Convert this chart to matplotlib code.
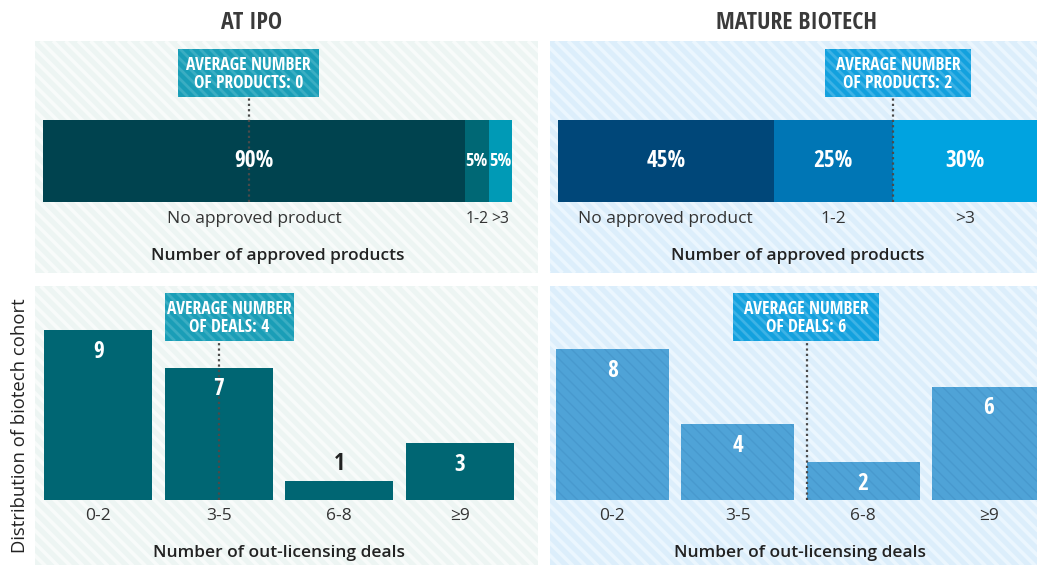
import numpy as np
import matplotlib
matplotlib.use('Agg')
import matplotlib.pyplot as plt
import matplotlib.transforms as mtransforms
from matplotlib import font_manager
from matplotlib.patches import Rectangle
from matplotlib.collections import LineCollection


# data

product_cats = ['No approved product', '1-2', '>3']
ipo_products = [90, 5, 5]                 # % of cohort at IPO
mature_products = [45, 25, 30]            # % of cohort, mature biotech

deal_cats = ['0-2', '3-5', '6-8', '≥9']
ipo_deals = [9, 7, 1, 3]
mature_deals = [8, 4, 2, 6]

ipo_avg_products = 0
mature_avg_products = 2
ipo_avg_deals = 4
mature_avg_deals = 6

# where the average marker sits on each axis
ipo_prod_marker = 44
mature_prod_marker = 70
ipo_deal_marker = 1.0
mature_deal_marker = 1.55


plt.rcParams['font.family'] = ['Open Sans', 'DejaVu Sans']

# a narrow bold face for titles / values, if one is installed
names = {f.name for f in font_manager.fontManager.ttflist}
narrow = 'Roboto'
for n in ['Open Sans Condensed', 'Roboto Condensed', 'Liberation Sans Narrow']:
    if n in names:
        narrow = n
        break
k = 1.0 if narrow != 'Roboto' else 0.9

W, H = 1037, 565
fig = plt.figure(figsize=(W / 100, H / 100), dpi=100)


def box(l, t, r, b):
    return [l / W, 1 - b / H, (r - l) / W, (b - t) / H]


# background layer in pixel coords (y down)
bg = fig.add_axes([0, 0, 1, 1], zorder=-1)
bg.set_xlim(0, W)
bg.set_ylim(H, 0)
bg.axis('off')


def striped(l, t, r, b, face, stripe, gap, lw, z):
    rect = Rectangle((l, t), r - l, b - t, facecolor=face, lw=0, zorder=z)
    bg.add_patch(rect)
    h = b - t
    segs = [[(x0, t), (x0 + h, b)] for x0 in np.arange(l - h, r, gap)]
    lc = LineCollection(segs, colors=stripe, linewidths=lw, zorder=z + 0.1)
    bg.add_collection(lc)
    lc.set_clip_path(rect)


def callout(l, t, r, b, face, stripe, text):
    striped(l, t, r, b, face, stripe, 10, 2.0, 1.5)
    bg.text((l + r) / 2, (t + b) / 2 + 1, text, ha='center', va='center', color='white',
            fontsize=12.6 * k, family=narrow, weight='bold', linespacing=1.02, zorder=3)


# panels
mint, mint_s = '#EDF5F3', '#F8FBFA'
blue, blue_s = '#DCEEFB', '#EBF6FE'
striped(35, 41, 538, 273, mint, mint_s, 12.5, 2.6, 1)
striped(550, 41, 1040, 273, blue, blue_s, 12.5, 2.6, 1)
striped(35, 286, 538, 568, mint, mint_s, 12.5, 2.6, 1)
striped(550, 286, 1040, 568, blue, blue_s, 12.5, 2.6, 1)

callout(178, 49, 319, 97, '#1A9EB7', '#3AADC2',
        'AVERAGE NUMBER\nOF PRODUCTS: %d' % ipo_avg_products)
callout(825, 49, 971, 97, '#13A1DE', '#3DB2E5',
        'AVERAGE NUMBER\nOF PRODUCTS: %d' % mature_avg_products)
callout(165, 293, 294, 341, '#1A9EB7', '#3AADC2',
        'AVERAGE NUMBER\nOF DEALS: %d' % ipo_avg_deals)
callout(733, 293, 879, 341, '#13A1DE', '#3DB2E5',
        'AVERAGE NUMBER\nOF DEALS: %d' % mature_avg_deals)

bg.text(252, 23, 'AT IPO', ha='center', va='center', fontsize=17.2 * k, family=narrow,
        weight='bold', color='#3A3A3A')
bg.text(796, 23, 'MATURE BIOTECH', ha='center', va='center', fontsize=17.2 * k, family=narrow,
        weight='bold', color='#3A3A3A')
bg.text(20, 426, 'Distribution of biotech cohort', rotation=90, ha='center', va='center',
        fontsize=13.3, color='#222222')

dots = (0, (1, 1.4))


def product_bar(l, r, values, colors, marker):
    ax = fig.add_axes(box(l, 120, r, 202))
    ax.set_xlim(0, 100)
    ax.set_ylim(-0.5, 0.5)
    ax.axis('off')
    trans = mtransforms.blended_transform_factory(ax.transData, ax.transAxes)
    left = 0
    for v, c, lab in zip(values, colors, product_cats):
        small = v < 10
        ax.barh(0, v, left=left, height=1, color=c, lw=0)
        ax.text(left + v / 2, 0, '%d%%' % v, ha='center', va='center', color='white',
                fontsize=(13.2 if small else 16.8) * k, family=narrow, weight='bold', zorder=6)
        ax.text(left + v / 2, -0.207, lab, transform=trans, ha='center', va='center',
                fontsize=11.3 if small else 12.5, color='#333333')
        left += v
    ax.plot([marker, marker], [0, 1.28], transform=trans, ls=dots, color='#4A4A4A',
            lw=1.6, clip_on=False, zorder=5)
    ax.text(0.5, -0.66, 'Number of approved products', transform=ax.transAxes,
            ha='center', va='center', fontsize=12.5, weight='semibold', color='#222222')


def deal_bars(l, r, values, color, marker, hatch=None, hatch_color=None):
    ax = fig.add_axes(box(l, 290, r, 500))
    ax.set_xlim(-0.45, 3.45)
    ax.set_ylim(0, 210 / 18.9)
    ax.axis('off')
    trans = mtransforms.blended_transform_factory(ax.transData, ax.transAxes)
    x = np.arange(len(values))
    ax.bar(x, values, width=0.9, color=color, lw=0, hatch=hatch,
           edgecolor=hatch_color if hatch_color else color)
    for i, v in enumerate(values):
        if v > 1:
            ax.text(i, v - 1.15, str(v), ha='center', va='center', color='white',
                    fontsize=16.8 * k, family=narrow, weight='bold', zorder=6)
        else:
            ax.text(i, v + 0.9, str(v), ha='center', va='center', color='#222222',
                    fontsize=16.8 * k, family=narrow, weight='bold', zorder=6)
        ax.text(i, -0.85, deal_cats[i], ha='center', va='center', fontsize=12.5, color='#333333')
    ax.plot([marker, marker], [0, 0.757], transform=trans, ls=dots, color='#4A4A4A',
            lw=1.6, clip_on=False, zorder=5)
    ax.text(0.5, -0.252, 'Number of out-licensing deals', transform=ax.transAxes,
            ha='center', va='center', fontsize=12.5, weight='semibold', color='#222222')
    return ax


product_bar(43, 512, ipo_products, ['#00434F', '#006875', '#009AB6'], ipo_prod_marker)
product_bar(558, 1037, mature_products, ['#004779', '#0076B5', '#00A3E0'], mature_prod_marker)

deal_bars(44, 514, ipo_deals, '#006673', ipo_deal_marker)
ax4 = deal_bars(556, 1045, mature_deals, '#4FA3D7', mature_deal_marker,
                hatch='\\\\\\', hatch_color='#4899CE')

fig.savefig('out.png', dpi=100)
